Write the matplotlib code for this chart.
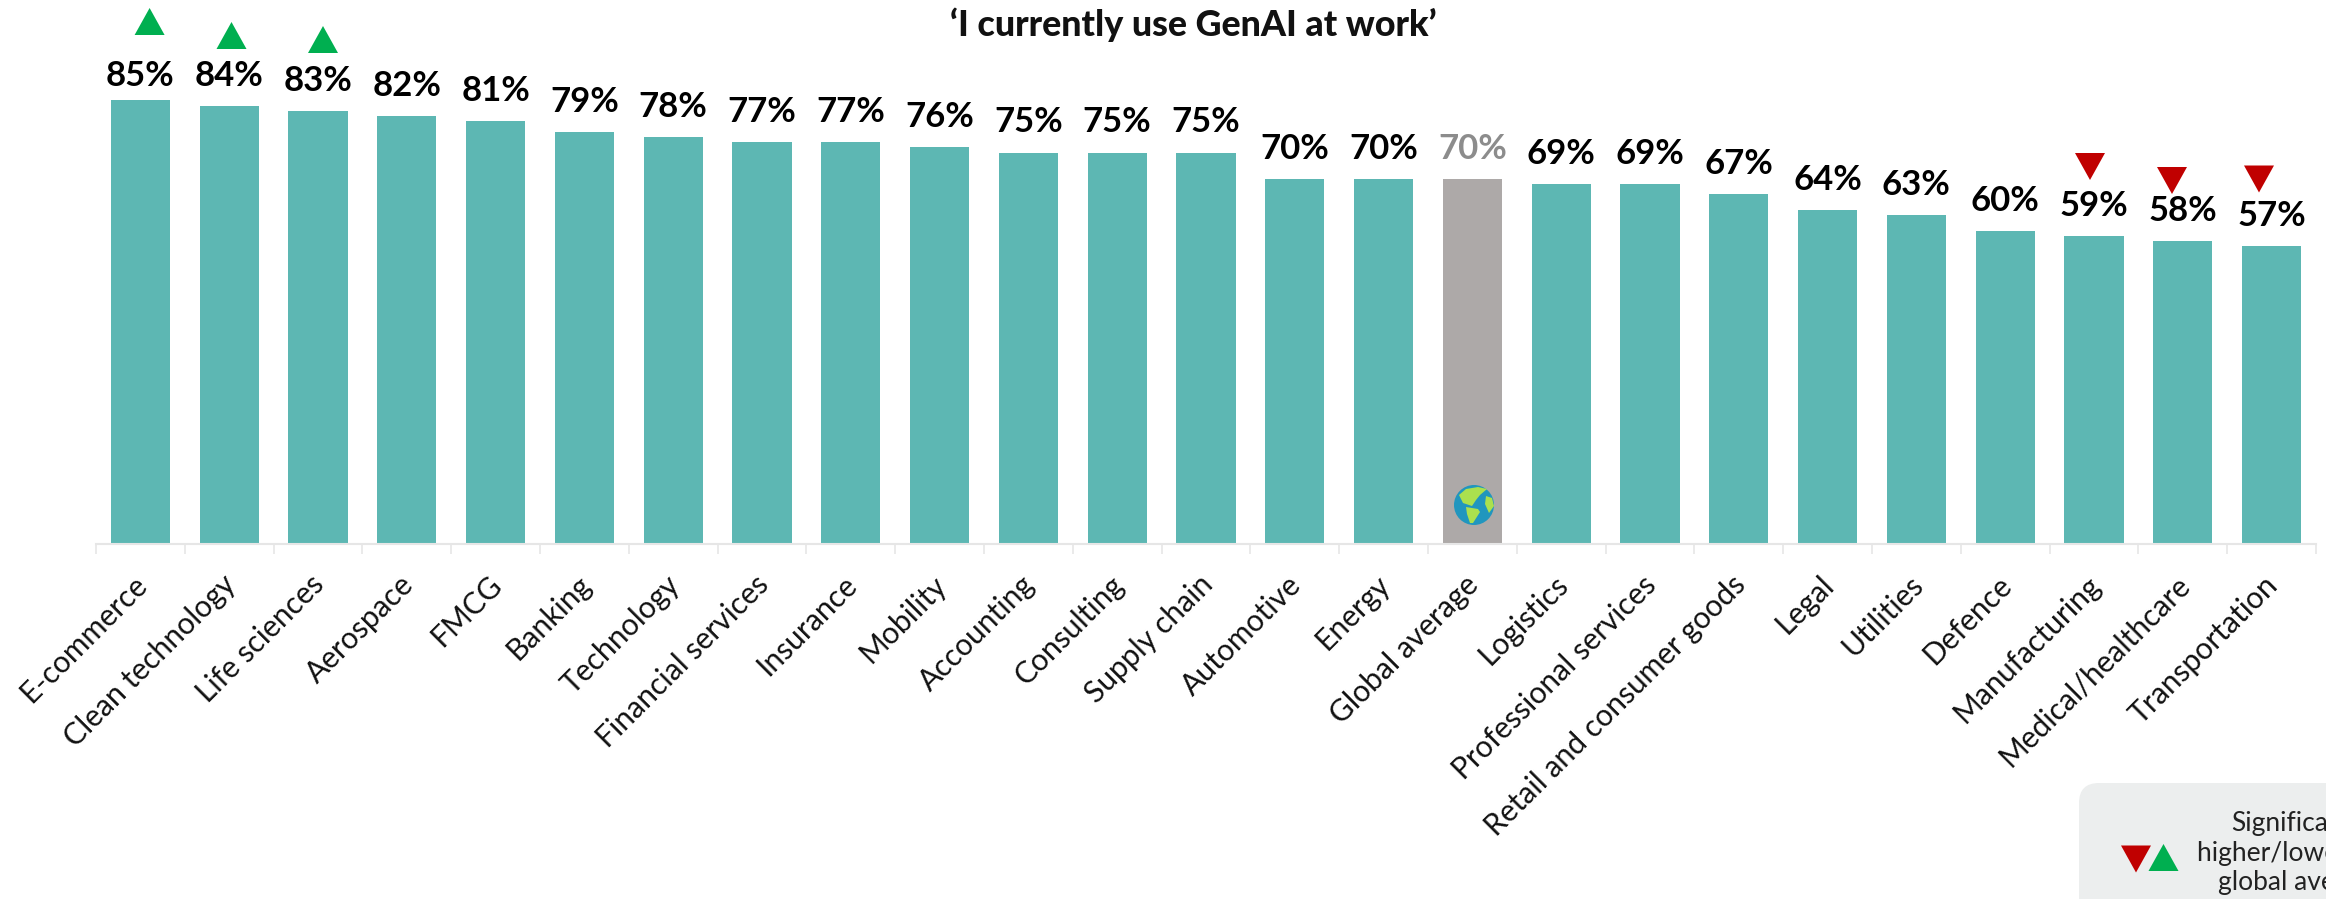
import matplotlib
matplotlib.use("Agg")
import matplotlib.pyplot as plt
from matplotlib.patches import Circle, FancyBboxPatch, Polygon
from matplotlib.transforms import Affine2D

W, H = 2326, 899
categories = ["E-commerce", "Clean technology", "Life sciences", "Aerospace", "FMCG", "Banking",
              "Technology", "Financial services", "Insurance", "Mobility", "Accounting", "Consulting",
              "Supply chain", "Automotive", "Energy", "Global average", "Logistics",
              "Professional services", "Retail and consumer goods", "Legal", "Utilities", "Defence",
              "Manufacturing", "Medical/healthcare", "Transportation"]
values = [85, 84, 83, 82, 81, 79, 78, 77, 77, 76, 75, 75, 75, 70, 70, 70, 69, 69, 67, 64, 63, 60, 59, 58, 57]

TEAL, GREY, GREEN, RED = "#5DB7B3", "#ADA9A8", "#00AF50", "#C00000"
FONT = "Lato"

fig = plt.figure(figsize=(W / 100, H / 100), dpi=100, facecolor="white")
ax = fig.add_axes([96 / W, (H - 544) / H, (2316 - 96) / W, 544 / H])
px = Affine2D().scale(1, -1).translate(0, H)  # figure pixels, y down
n = len(categories)
xs = list(range(n))
colors = [GREY if c == "Global average" else TEAL for c in categories]
ax.bar(xs, values, width=0.665, color=colors)
ax.set_xlim(-0.5, n - 0.5)
ax.set_ylim(0, 544 / 5.22)
for s in ["top", "left", "right"]:
    ax.spines[s].set_visible(False)
ax.spines["bottom"].set_color("#E6E6E6")
ax.spines["bottom"].set_linewidth(1.5)
ax.set_yticks([])
ax.set_xticks(xs)
ax.set_xticklabels(categories, rotation=45, ha="right", va="top", rotation_mode="anchor",
                   fontsize=21.6, family=FONT, color="#111111")
ax.tick_params(axis="x", which="major", length=0, pad=19)
for lab in ax.get_xticklabels():
    lab.set_transform(lab.get_transform() + Affine2D().translate(-8, 0))
ax.set_xticks([i - 0.5 for i in range(n + 1)], minor=True)
ax.tick_params(axis="x", which="minor", length=7.5, width=1.2, color="#E6E6E6")

for i, (x, v, c) in enumerate(zip(xs, values, categories)):
    gap_pt = 10 if i == 0 else 14.4
    ax.annotate(f"{v}%", (x, v), xytext=(0, gap_pt), textcoords="offset points", ha="center", va="baseline",
                fontsize=25, family=FONT, fontweight="bold",
                color="#8C8C8C" if c == "Global average" else "black")

def tri(cx, cy, up, color, w=30, h=27):
    pts = [(cx - w / 2, cy + h / 2), (cx + w / 2, cy + h / 2), (cx, cy - h / 2)] if up else \
          [(cx - w / 2, cy - h / 2), (cx + w / 2, cy - h / 2), (cx, cy + h / 2)]
    fig.add_artist(Polygon(pts, closed=True, fc=color, ec="none", transform=px))

tri(149.6, 21.5, True, GREEN)
tri(231.5, 35.5, True, GREEN)
tri(323, 39.5, True, GREEN)
tri(2090, 166.5, False, RED)
tri(2172, 180.5, False, RED)
tri(2259, 179, False, RED)

fig.text(1193 / W, 1 - 25 / H, "‘I currently use GenAI at work’", ha="center", va="center",
         fontsize=25.8, family=FONT, fontweight="black", color="#111111")

# legend
fig.add_artist(FancyBboxPatch((2099, 803), 300, 200, boxstyle="round,pad=20,rounding_size=20",
                              fc="#ECEEEE", ec="none", transform=px))
tri(2136, 859, False, RED)
tri(2163.5, 857.5, True, GREEN)
fig.text(2302 / W, 1 - 853 / H, "Significantly\nhigher/lower than\nglobal average", ha="center", va="center",
         fontsize=19, family=FONT, color="#222222", linespacing=1.24)

# globe
fig.add_artist(Circle((1474, 505), 20, fc="#2196BE", ec="none", transform=px))
for pts in ([(1459, 495), (1466, 489), (1478, 487), (1487, 489), (1480, 495), (1476, 500), (1472, 506), (1463, 503)],
            [(1466, 507), (1478, 509), (1480, 512), (1473, 523), (1470, 523), (1467, 514)],
            [(1486, 496), (1492, 498), (1494, 506), (1489, 513), (1485, 504)]):
    fig.add_artist(Polygon(pts, closed=True, fc="#ABE04E", ec="none", transform=px))

fig.savefig("out.png", dpi=100)
